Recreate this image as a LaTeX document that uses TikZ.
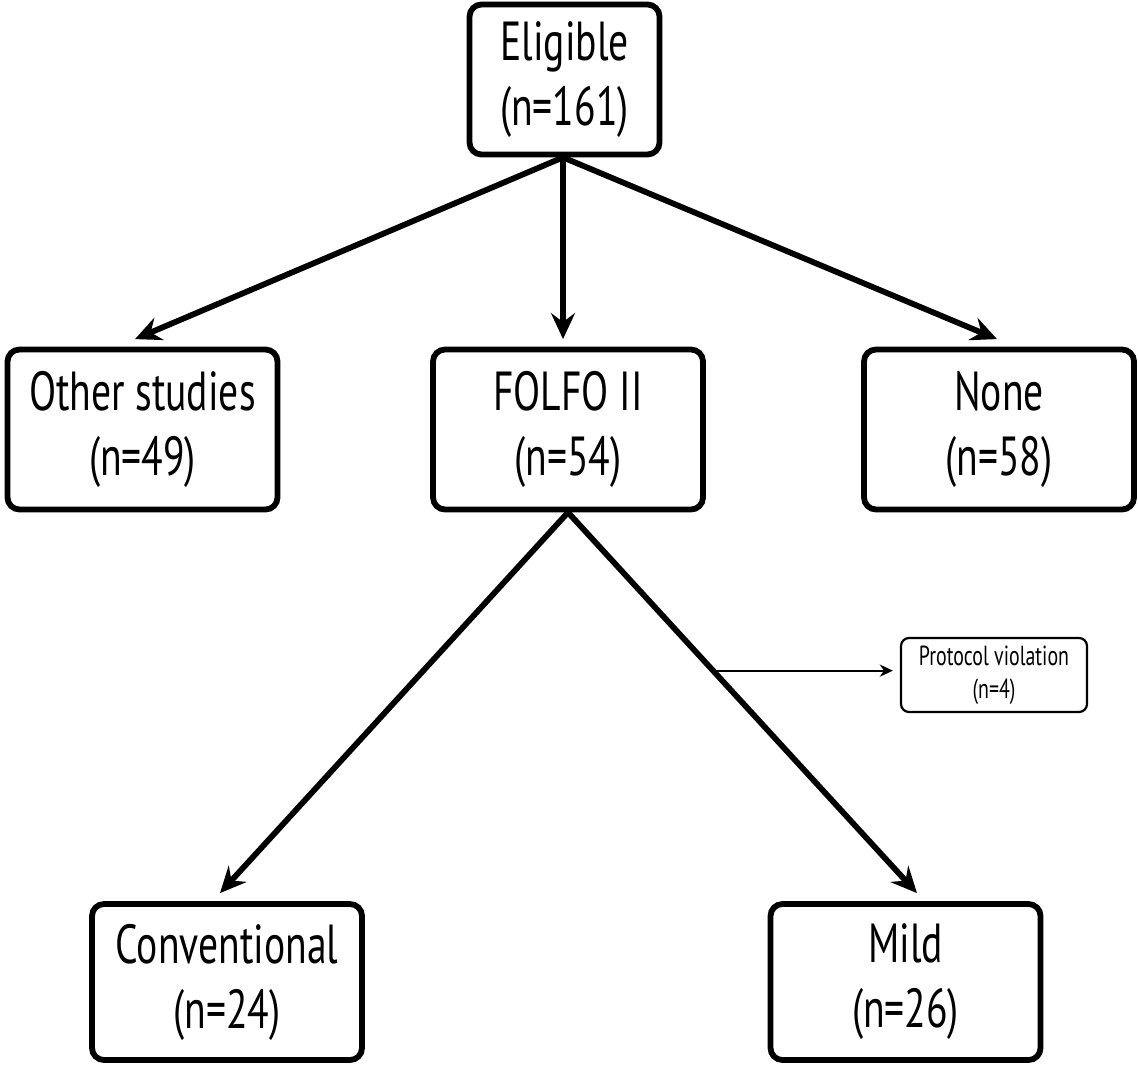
\documentclass[tikz,border=0pt]{standalone}
\usepackage{fontspec}
\setmainfont{PT Sans}[FakeStretch=0.72]
\usetikzlibrary{arrows.meta,calc}
\tikzset{
  box/.style={draw, line width=2.9pt, rounded corners=6pt, align=center, inner sep=0pt,
    font=\fontsize{27.5}{32.5}\selectfont},
  smallbox/.style={draw, line width=1.1pt, rounded corners=4pt, align=center, inner sep=0pt,
    font=\fontsize{13.8}{16.5}\selectfont},
  bigarrow/.style={line width=2.9pt, -{Stealth[length=13pt,width=12pt,inset=4.5pt]}},
  thinarrow/.style={line width=1.1pt, -{Stealth[length=6.5pt,width=6pt,inset=2pt]}}
}
\begin{document}
\begin{tikzpicture}[x=0.5pt,y=-0.5pt]
\path[use as bounding box] (0,0) rectangle (1138,1064);
\node[box, minimum width=95pt, minimum height=75pt] (elig) at (564.5,79.5) {Eligible\\(n=161)};
\node[box, minimum width=135pt, minimum height=80pt] (other) at (142.5,429.5) {Other studies\\(n=49)};
\node[box, minimum width=135pt, minimum height=80pt] (folfo) at (568,429.5) {FOLFO II\\(n=54)};
\node[box, minimum width=135pt, minimum height=80pt] (none) at (999,429.5) {None\\(n=58)};
\node[box, minimum width=135pt, minimum height=78pt] (conv) at (227,982) {Conventional\\(n=24)};
\node[box, minimum width=135pt, minimum height=78pt] (mild) at (905.5,982) {Mild\\(n=26)};
\node[smallbox, minimum width=93pt, minimum height=37pt] (prot) at (994,675) {Protocol violation\\(n=4)};
\draw[bigarrow] ([xshift=-0.75pt]elig.south) -- ([xshift=-3.75pt,yshift=3.75pt]other.north);
\draw[bigarrow] ([xshift=-0.75pt]elig.south) -- ([xshift=-2.5pt,yshift=3.75pt]folfo.north);
\draw[bigarrow] ([xshift=-0.75pt]elig.south) -- ([xshift=-1pt,yshift=3.75pt]none.north);
\draw[bigarrow] (folfo.south) -- ([xshift=-3.5pt,yshift=4pt]conv.north);
\draw[bigarrow] (folfo.south) -- ([xshift=5.75pt,yshift=4pt]mild.north) coordinate[pos=0.4156] (br);
\draw[thinarrow, shorten >=3.5pt] (br) -- (br -| prot.west);
\end{tikzpicture}
\end{document}
